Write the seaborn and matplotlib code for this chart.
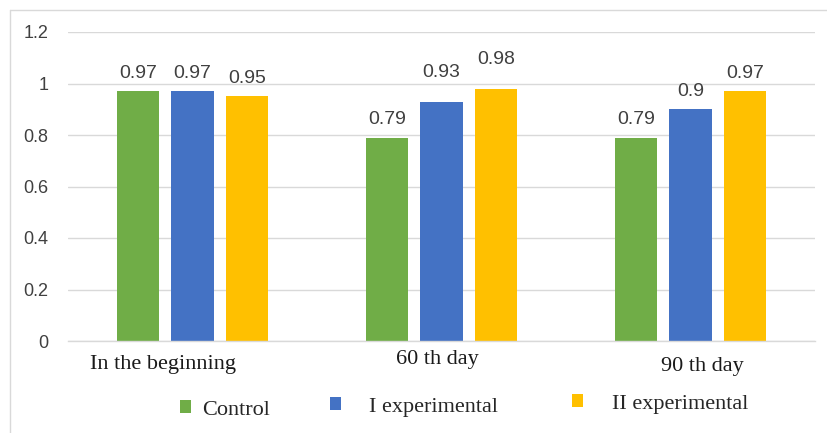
import matplotlib
matplotlib.use("Agg")
import matplotlib.pyplot as plt
from matplotlib.transforms import ScaledTranslation
from matplotlib.lines import Line2D
import seaborn as sns
import pandas as pd

# Data
periods = ["In the beginning", "60 th day", "90 th day"]
groups = ["Control", "I experimental", "II experimental"]
control = [0.97, 0.79, 0.79]
exp_one = [0.97, 0.93, 0.90]
exp_two = [0.95, 0.98, 0.97]
y_ticks = [0, 0.2, 0.4, 0.6, 0.8, 1.0, 1.2]
y_tick_labels = ["0", "0.2", "0.4", "0.6", "0.8", "1", "1.2"]

colors = ["#70AD47", "#4472C4", "#FFC000"]
grid_col = "#d9d9d9"

df = pd.DataFrame({
    "period": periods * 3,
    "group": [groups[0]] * 3 + [groups[1]] * 3 + [groups[2]] * 3,
    "value": control + exp_one + exp_two,
})

sns.set_theme(style="white")
plt.rcParams["font.family"] = ["Liberation Serif", "DejaVu Sans"]

W, H, DPI = 827, 433, 100
fig = plt.figure(figsize=(W / DPI, H / DPI), dpi=DPI)
ax = fig.add_axes([68 / W, (H - 341) / H, (815 - 68) / W, (341 - 32) / H])

sns.barplot(data=df, x="period", y="value", hue="group", order=periods,
            hue_order=groups, palette=colors, saturation=1, width=0.66,
            gap=0.23, linewidth=0, errorbar=None, ax=ax)

ax.set_xlim(-0.5, 2.5)
ax.set_ylim(0, 1.2)
ax.set_xlabel("")
ax.set_ylabel("")

# Horizontal gridlines behind the bars
ax.set_axisbelow(True)
ax.yaxis.grid(True, color=grid_col, linewidth=1)
ax.xaxis.grid(False)
for side in ["top", "right", "left"]:
    ax.spines[side].set_visible(False)
ax.spines["bottom"].set_color(grid_col)
ax.spines["bottom"].set_linewidth(1)

ax.set_yticks(y_ticks)
ax.set_yticklabels(y_tick_labels, family="Liberation Sans", fontsize=13,
                   color="#404040")
ax.tick_params(axis="y", length=0, pad=14)
ax.tick_params(axis="x", length=0, pad=10)
ax.set_xticks(range(len(periods)))
ax.set_xticklabels(periods, family="Liberation Serif", fontsize=16,
                   color="#1a1a1a")

# Per-label nudges of the category names (pixels)
label_shift = [(-30, 0), (-4, 5), (12, -2)]
for lab, (dx, dy) in zip(ax.get_xticklabels(), label_shift):
    lab.set_transform(lab.get_transform() +
                      ScaledTranslation(dx / DPI, dy / DPI, fig.dpi_scale_trans))

# Value labels above each bar
series = [control, exp_one, exp_two]
label_pad = [[7, 7, 7], [7, 15, 7], [7, 15, 7]]
for cont, vals, pads in zip(ax.containers, series, label_pad):
    for bar, v, p in zip(cont, vals, pads):
        ax.annotate(f"{v:g}", (bar.get_x() + bar.get_width() / 2, bar.get_height()),
                    xytext=(0, p), textcoords="offset points", ha="center",
                    va="bottom", family="Liberation Sans", fontsize=14,
                    color="#404040")

# Legend entries placed individually along the bottom
handles, labels = ax.get_legend_handles_labels()
if ax.get_legend() is not None:
    ax.get_legend().remove()
legend_pos = [(180, 410, 0.5), (330, 407, 1.26), (572, 404, 1.3)]
for h, l, (x, y, tp) in zip(handles, labels, legend_pos):
    fig.legend([h], [l], loc="center left", bbox_to_anchor=(x / W, 1 - y / H),
               frameon=False, borderpad=0, borderaxespad=0, handlelength=0.5,
               handleheight=0.5, handletextpad=tp,
               prop={"family": "Liberation Serif", "size": 16})

# Outer frame lines (top and left)
fig.add_artist(Line2D([10 / W, 1], [1 - 10 / H, 1 - 10 / H], color=grid_col,
                      linewidth=1, transform=fig.transFigure))
fig.add_artist(Line2D([10 / W, 10 / W], [0, 1 - 10 / H], color=grid_col,
                      linewidth=1, transform=fig.transFigure))

fig.savefig("out.png", dpi=DPI)
